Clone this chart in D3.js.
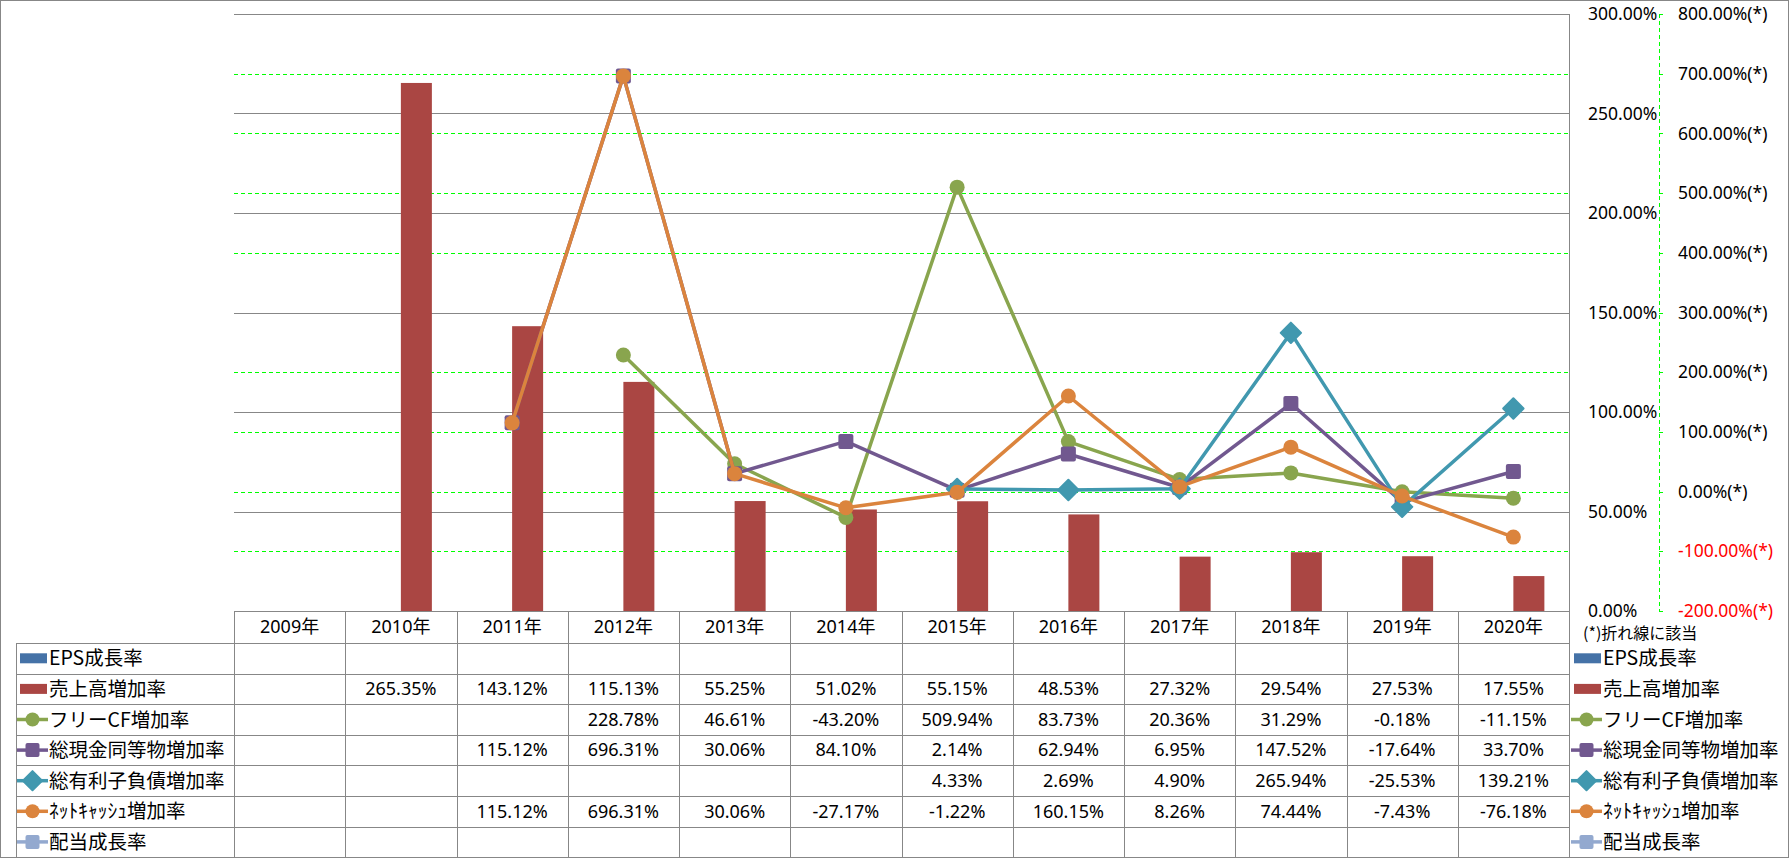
<!DOCTYPE html>
<html><head><meta charset="utf-8">
<script src="https://cdn.jsdelivr.net/npm/d3@7/dist/d3.min.js"></script>
<style>
html,body{margin:0;padding:0;background:#fff;}
svg{display:block;font-family:'Noto Sans','Noto Sans CJK JP',sans-serif;}
.jp{font-family:'Noto Sans CJK JP',sans-serif;}
</style></head>
<body>
<svg id="chart" width="1789" height="858"></svg>
<script>
// ---- data ----
const years = ["2009年","2010年","2011年","2012年","2013年","2014年","2015年","2016年","2017年","2018年","2019年","2020年"];
const epsGrowth      = [null,null,null,null,null,null,null,null,null,null,null,null];
const salesGrowth    = [null,265.35,143.12,115.13,55.25,51.02,55.15,48.53,27.32,29.54,27.53,17.55];
const fcfGrowth      = [null,null,null,228.78,46.61,-43.20,509.94,83.73,20.36,31.29,-0.18,-11.15];
const cashGrowth     = [null,null,115.12,696.31,30.06,84.10,2.14,62.94,6.95,147.52,-17.64,33.70];
const debtGrowth     = [null,null,null,null,null,null,4.33,2.69,4.90,265.94,-25.53,139.21];
const netCashGrowth  = [null,null,115.12,696.31,30.06,-27.17,-1.22,160.15,8.26,74.44,-7.43,-76.18];
const dividendGrowth = [null,null,null,null,null,null,null,null,null,null,null,null];
const leftTicks  = [0,50,100,150,200,250,300];
const rightTicks = [-200,-100,0,100,200,300,400,500,600,700,800];
const seriesNames = ["EPS成長率","売上高増加率","フリーCF増加率","総現金同等物増加率","総有利子負債増加率","ﾈｯﾄｷｬｯｼｭ増加率","配当成長率"];
const noteText = "(*)折れ線に該当";

// ---- series config (built from arrays) ----
const series = [
  {name:seriesNames[0], values:epsGrowth,      type:"bar",  color:"#4572A7"},
  {name:seriesNames[1], values:salesGrowth,    type:"bar",  color:"#AA4643"},
  {name:seriesNames[2], values:fcfGrowth,      type:"line", color:"#89A54E", marker:"circle"},
  {name:seriesNames[3], values:cashGrowth,     type:"line", color:"#71588F", marker:"square"},
  {name:seriesNames[4], values:debtGrowth,     type:"line", color:"#4198AF", marker:"diamond"},
  {name:seriesNames[5], values:netCashGrowth,  type:"line", color:"#DB843D", marker:"circle"},
  {name:seriesNames[6], values:dividendGrowth, type:"line", color:"#93A9CF", marker:"square"}
];

const fmt = v => v.toFixed(2) + "%";

const svg = d3.select("#chart");
const W = 1789, H = 858;
const plot = {left:234, right:1569, top:14, bottom:611};
const gray = "#878787";

const x = d3.scaleBand().domain(years).range([plot.left, plot.right]);
const yL = d3.scaleLinear().domain([0,300]).range([plot.bottom, plot.top]);
const yR = d3.scaleLinear().domain([-200,800]).range([plot.bottom, plot.top]);
const bw = x.bandwidth();
const cx = i => x(years[i]) + bw/2;

// outer border
svg.append("rect").attr("x",0.5).attr("y",0.5).attr("width",W-1).attr("height",H-1)
  .attr("fill","none").attr("stroke",gray);

// gridlines: secondary (green dashed) first, primary (gray) on top
const g = svg.append("g");
g.selectAll(".gr").data(rightTicks.filter(d=>d!==-200 && d!==800)).join("line")
  .attr("x1",plot.left).attr("x2",plot.right)
  .attr("y1",d=>Math.round(yR(d))+0.5).attr("y2",d=>Math.round(yR(d))+0.5)
  .attr("stroke","#00FF00").attr("stroke-width",1).attr("stroke-dasharray","4,3");
g.selectAll(".gl").data(leftTicks).join("line")
  .attr("x1",plot.left).attr("x2",plot.right)
  .attr("y1",d=>Math.round(yL(d))+0.5).attr("y2",d=>Math.round(yL(d))+0.5)
  .attr("stroke",gray).attr("stroke-width",1);

// plot right border (primary axis line)
svg.append("line").attr("x1",plot.right+0.5).attr("x2",plot.right+0.5)
  .attr("y1",plot.top).attr("y2",H).attr("stroke",gray);

// bars
const barW = 31;
const barSeries = series.filter(s=>s.type==="bar");
barSeries.forEach((s,si)=>{
  svg.append("g").selectAll("rect").data(s.values.map((v,i)=>({v,i})).filter(d=>d.v!=null)).join("rect")
    .attr("x",d=>cx(d.i) + (si-1)*barW)
    .attr("width",barW)
    .attr("y",d=>yL(d.v))
    .attr("height",d=>yL(0)-yL(d.v))
    .attr("fill",s.color);
});

// marker helper
function drawMarker(sel, type, color, size){
  if(type==="circle"){
    sel.append("circle").attr("r",size/2).attr("fill",color);
  } else if(type==="square"){
    sel.append("rect").attr("x",-size/2).attr("y",-size/2).attr("width",size).attr("height",size)
      .attr("rx",2).attr("fill",color);
  } else {
    const r = size*0.68;
    sel.append("path").attr("d",`M0,${-r}L${r},0L0,${r}L${-r},0Z`).attr("fill",color)
      .attr("stroke",color).attr("stroke-width",2).attr("stroke-linejoin","round");
  }
}

// lines
const lineSeries = series.filter(s=>s.type==="line");
lineSeries.forEach(s=>{
  const pts = s.values.map((v,i)=>({v,i}));
  const line = d3.line().defined(d=>d.v!=null).x(d=>cx(d.i)).y(d=>yR(d.v));
  svg.append("path").datum(pts).attr("d",line).attr("fill","none")
    .attr("stroke",s.color).attr("stroke-width",3.5).attr("stroke-linejoin","round");
  pts.filter(d=>d.v!=null).forEach(d=>{
    const m = svg.append("g").attr("transform",`translate(${cx(d.i)},${yR(d.v)})`);
    drawMarker(m, s.marker, s.color, 15);
  });
});

// primary axis labels (right of plot, left-aligned)
svg.append("g").selectAll("text").data(leftTicks).join("text")
  .attr("x",1588).attr("y",d=>yL(d)).attr("dy","0.35em")
  .attr("font-size",17.5).attr("fill","#000")
  .text(d=>fmt(d));

// secondary axis: green dashed line, ticks, labels
const axX = 1659;
svg.append("line").attr("x1",axX+0.5).attr("x2",axX+0.5).attr("y1",plot.top).attr("y2",plot.bottom)
  .attr("stroke","#00FF00").attr("stroke-dasharray","4,3");
svg.append("g").selectAll("line").data(rightTicks).join("line")
  .attr("x1",axX).attr("x2",axX+4).attr("y1",d=>Math.round(yR(d))+0.5).attr("y2",d=>Math.round(yR(d))+0.5)
  .attr("stroke","#00FF00");
svg.append("g").selectAll("text").data(rightTicks).join("text")
  .attr("x",1678).attr("y",d=>yR(d)).attr("dy","0.35em")
  .attr("font-size",17.5).attr("fill",d=>d<0?"#FF0000":"#000")
  .text(d=>fmt(d)+"(*)");

// ---- data table ----
const hdrTop = plot.bottom, hdrBot = 643, rowH = 30.6;
const labLeft = 16;
const nRows = series.length;
const tableBot = hdrBot + rowH*nRows;
const tg = svg.append("g");
tg.append("line").attr("x1",plot.left).attr("x2",plot.right).attr("y1",hdrTop+0.5).attr("y2",hdrTop+0.5).attr("stroke",gray);
d3.range(nRows+1).forEach(r=>{
  const y = Math.round(hdrBot + r*rowH)+0.5;
  tg.append("line").attr("x1",labLeft).attr("x2",plot.right).attr("y1",y).attr("y2",y).attr("stroke",gray);
});
years.forEach((yv,i)=>{
  const xx = Math.round(x(yv))+0.5;
  tg.append("line").attr("x1",xx).attr("x2",xx).attr("y1",hdrTop).attr("y2",tableBot).attr("stroke",gray);
});
tg.append("line").attr("x1",labLeft+0.5).attr("x2",labLeft+0.5).attr("y1",hdrBot).attr("y2",tableBot).attr("stroke",gray);

// header
tg.selectAll(".yr").data(years).join("text")
  .attr("x",d=>x(d)+bw/2).attr("y",(hdrTop+hdrBot)/2).attr("dy","0.35em")
  .attr("text-anchor","middle").attr("font-size",18).text(d=>d);

// legend key helper
function legendKey(gx, gy, s){
  const k = svg.append("g").attr("transform",`translate(${gx},${gy})`);
  if(s.type==="bar"){
    k.append("rect").attr("x",0).attr("y",-5).attr("width",27).attr("height",10).attr("fill",s.color);
  } else {
    k.append("line").attr("x1",-3).attr("x2",28).attr("y1",0).attr("y2",0).attr("stroke",s.color).attr("stroke-width",3.5);
    const m = k.append("g").attr("transform","translate(12.5,0)");
    drawMarker(m, s.marker, s.color, 14);
  }
}

series.forEach((s,r)=>{
  const yc = hdrBot + r*rowH + rowH/2;
  legendKey(20, yc, s);
  tg.append("text").attr("class","jp").attr("x",49).attr("y",yc).attr("dy","0.36em").attr("font-size",19.5).text(s.name);
  s.values.forEach((v,i)=>{
    if(v==null) return;
    tg.append("text").attr("x",cx(i)).attr("y",yc).attr("dy","0.35em").attr("text-anchor","middle")
      .attr("font-size",18).text(fmt(v));
  });
  legendKey(1574, yc, s);
  svg.append("text").attr("class","jp").attr("x",1603).attr("y",yc).attr("dy","0.36em").attr("font-size",19.5).text(s.name);
});

svg.append("text").attr("class","jp").attr("x",1583).attr("y",633).attr("dy","0.36em").attr("font-size",16).text(noteText);
</script>
</body></html>
